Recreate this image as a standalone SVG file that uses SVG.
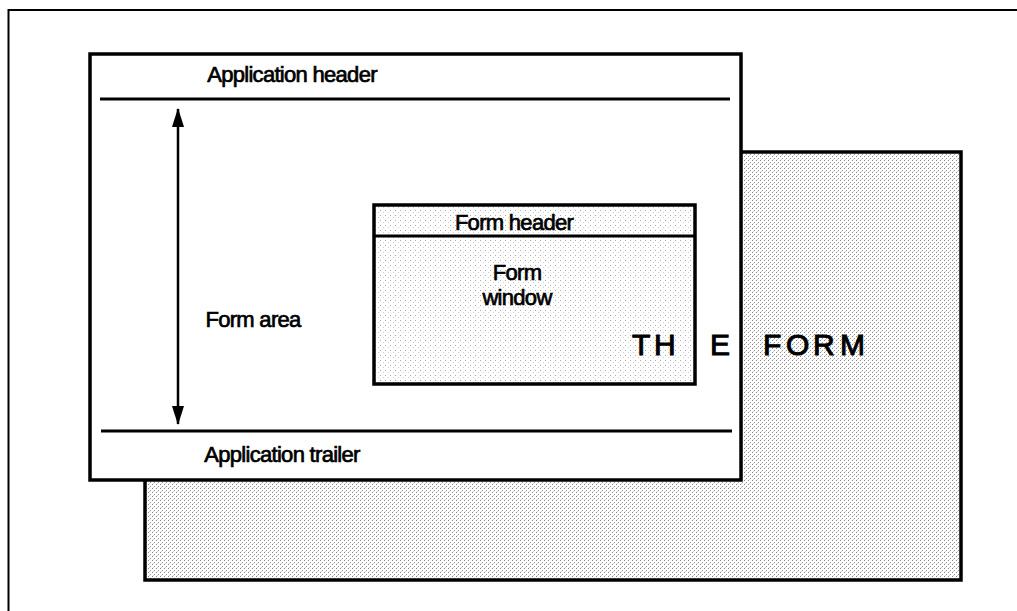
<svg xmlns="http://www.w3.org/2000/svg" width="1017" height="611" viewBox="0 0 1017 611">
<defs>
<pattern id="dots" width="4" height="4" patternUnits="userSpaceOnUse">
<rect width="4" height="4" fill="#ffffff"/>
<rect x="0" y="0" width="1" height="1" fill="#888"/>
<rect x="2" y="2" width="1" height="1" fill="#999"/>
<rect x="1" y="3" width="1" height="1" fill="#ccc"/>
</pattern>
<pattern id="dotsLight" width="5" height="5" patternUnits="userSpaceOnUse">
<rect width="5" height="5" fill="#ffffff"/>
<rect x="0" y="0" width="1" height="1" fill="#aaa"/>
<rect x="3" y="2" width="1" height="1" fill="#ccc"/>
</pattern>
<marker id="ah" viewBox="0 0 19 14" refX="18" refY="7" markerWidth="19" markerHeight="14" markerUnits="userSpaceOnUse" orient="auto-start-reverse">
<path d="M0,1 L19,7 L0,13 z" fill="#000"/>
</marker>
<style>
.t{font-family:"Liberation Sans",Arial,sans-serif;font-size:22px;fill:#000;letter-spacing:-0.7px;stroke:#000;stroke-width:0.7}
.big{font-family:"Liberation Sans",Arial,sans-serif;font-size:30px;fill:#000;stroke:#000;stroke-width:1}
.box{stroke:#000;stroke-width:3.5}
.ln{stroke:#000;stroke-width:3;fill:none}
</style>
</defs>
<g id="frame">
<path d="M8.5,611 V10 H1017" fill="none" stroke="#000" stroke-width="2"/>
</g>
<g id="the-form">
<rect x="145" y="152" width="816" height="428" fill="url(#dots)" class="box"/>
</g>
<g id="application-window">
<rect x="90" y="54" width="651" height="426" fill="#fff" class="box"/>
<text class="t" x="292" y="82" text-anchor="middle">Application header</text>
<text class="t" x="282" y="462" text-anchor="middle">Application trailer</text>
<text class="t" x="253" y="327" text-anchor="middle">Form area</text>
</g>
<g id="form-window">
<rect x="374" y="205" width="321" height="179" fill="url(#dotsLight)" class="box"/>
<text class="t" x="514" y="230" text-anchor="middle">Form header</text>
<text class="t" x="517" y="280" text-anchor="middle">Form</text>
<text class="t" x="517" y="305" text-anchor="middle">window</text>
</g>
<g id="connectors">
<line x1="100" y1="99" x2="730" y2="99" class="ln"/>
<line x1="101" y1="431" x2="732" y2="431" class="ln"/>
<line x1="374" y1="236" x2="695" y2="236" class="ln"/>
<line x1="178" y1="109" x2="178" y2="424" stroke="#000" stroke-width="2.5" marker-start="url(#ah)" marker-end="url(#ah)"/>
</g>
<g id="label-the-form">
<text class="big" y="355"><tspan x="632">T</tspan><tspan x="654">H</tspan><tspan x="710">E</tspan><tspan x="763">F</tspan><tspan x="786">O</tspan><tspan x="813">R</tspan><tspan x="840">M</tspan></text>
</g>
</svg>
